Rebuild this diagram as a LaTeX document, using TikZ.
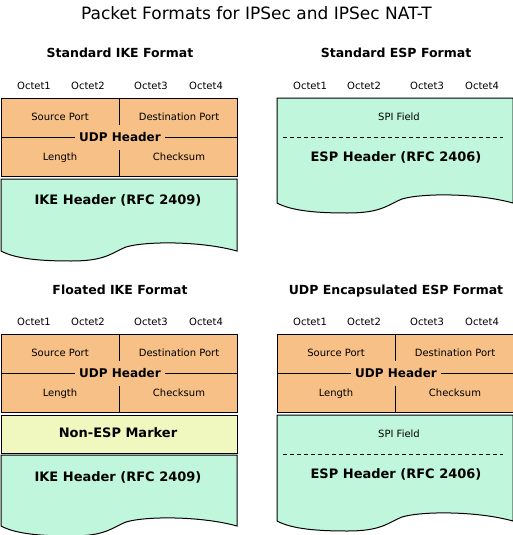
\documentclass[tikz,border=0pt]{standalone}
\usepackage{fontspec}
\setmainfont{DejaVu Sans}
\definecolor{udporange}{RGB}{246,192,134}
\definecolor{hdrgreen}{RGB}{192,246,220}
\definecolor{markyellow}{RGB}{240,248,192}

\begin{document}
\begin{tikzpicture}[x=1pt, y=-1pt, line width=1pt,
        small/.style = {font=\fontsize{10}{12}\selectfont, inner sep=0pt, text height=7.3pt, text depth=0pt},
        heading/.style = {font=\fontsize{12.5}{15}\selectfont\bfseries, inner sep=0pt, text height=9.1pt, text depth=0pt},
        label/.style = {font=\fontsize{13}{15}\selectfont\bfseries, inner sep=0pt, text height=9.5pt, text depth=0pt},
        udplabel/.style = {font=\fontsize{12}{14}\selectfont\bfseries, fill=udporange, inner xsep=4pt, inner ysep=2pt,
                           text height=8.8pt, text depth=0pt},
        wave/.style = {insert path={.. controls +(15,8) and +(-30,0) .. ++(70,10)
                        .. controls +(35,0) and +(-15,6) .. ++(55,-14)
                        .. controls +(20,-6) and +(-36,-10) .. ++(111,4)}}]
    \useasboundingbox (0,0) rectangle (513,535);

    \node[font=\fontsize{17}{20}\selectfont, inner sep=0pt, text height=12.4pt, text depth=0pt] (title) at (256.5,13)
        {Packet Formats for IPSec and IPSec NAT-T};

    \node[heading] (stdike) at (120,53) {Standard IKE Format};
    \node[heading] (stdesp) at (396,53) {Standard ESP Format};
    \node[heading] (fltike) at (120,290) {Floated IKE Format};
    \node[heading] (udpesp) at (396,290) {UDP Encapsulated ESP Format};

    \foreach \x/\y/\s in {1/86/a, 277/86/b, 1/322/c, 277/322/d}
        \foreach \dx [count=\i] in {33, 87, 150, 205}
            \node[small] (oct\s\i) at (\x+\dx,\y) {Octet\i};

    % UDP headers
    \foreach \x/\y/\s in {1/98/a, 1/334/c, 277/334/d}
    {
        \begin{scope}[shift={(\x,\y)}]
            \filldraw[fill=udporange] (0,0) rectangle (236.5,78.5);
            \draw (0,39) -- (236.5,39);
            \draw (118,0) -- (118,27) (118,52) -- (118,78.5);
            \node[small] (srcport\s) at (59,19) {Source Port};
            \node[small] (dstport\s) at (178,19) {Destination Port};
            \node[small] (length\s) at (59,59) {Length};
            \node[small] (checksum\s) at (178,59) {Checksum};
            \node[udplabel] (udp\s) at (119,39) {UDP Header};
        \end{scope}
    }

    % IKE headers
    \filldraw[fill=hdrgreen] (1,179) -- (1,251) [wave] -- (237,179) -- cycle;
    \node[label] (ikehdra) at (118,200) {IKE Header (RFC 2409)};

    \filldraw[fill=markyellow] (1,415) rectangle (237.5,453);
    \node[label] (nonesp) at (118,433) {Non-ESP Marker};
    \filldraw[fill=hdrgreen] (1,455) -- (1,526) [wave] -- (237,455) -- cycle;
    \node[label] (ikehdrc) at (118,477) {IKE Header (RFC 2409)};

    % ESP headers
    \foreach \y/\h/\s in {98/105/b, 415/106/d}
    {
        \begin{scope}[shift={(277,\y)}]
            \filldraw[fill=hdrgreen] (0,0) -- (0,\h) [wave] -- (236,0) -- cycle;
            \node[small] (spi\s) at (122,19) {SPI Field};
            \draw[line width=0.8pt, dash pattern=on 4pt off 3pt] (6,39) -- (226,39);
            \node[label] (esphdr\s) at (119,58.5) {ESP Header (RFC 2406)};
        \end{scope}
    }
\end{tikzpicture}
\end{document}
